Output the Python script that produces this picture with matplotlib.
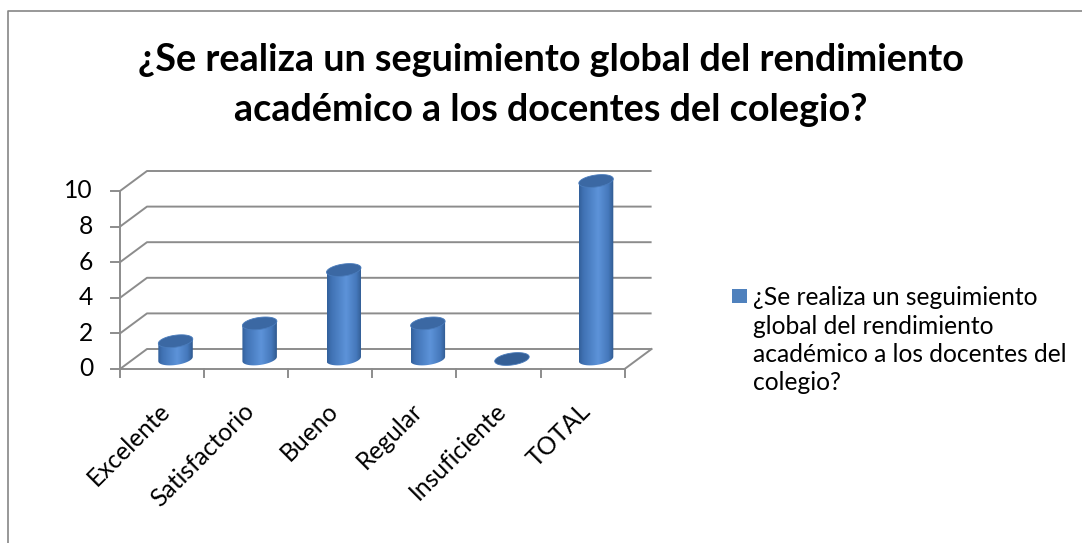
import textwrap
import numpy as np
import matplotlib
matplotlib.use("Agg")
import matplotlib.pyplot as plt
from matplotlib.patches import Polygon, Rectangle
from matplotlib.lines import Line2D

# data
categories = ["Excelente", "Satisfactorio", "Bueno", "Regular", "Insuficiente", "TOTAL"]
values = [1, 2, 5, 2, 0, 10]
y_ticks = [0, 2, 4, 6, 8, 10]
series_name = "¿Se realiza un seguimiento global del rendimiento académico a los docentes del colegio?"

W, H = 1082, 543
X0, CAT_W = 120, 84.1      # px of front axis and width of one category
Y0, UNIT = 369, 17.8       # px of value 0 and px per unit
DX, DY = 27 / CAT_W, 20 / UNIT   # depth of the 3d box in data units
GRID = "#8c8c8c"
FONT = "Lato"
FS = 17.7

fig = plt.figure(figsize=(W / 100, H / 100), dpi=100)
ax = fig.add_axes([0, 0, 1, 1])
ax.set_xlim(-X0 / CAT_W, (W - X0) / CAT_W)
ax.set_ylim((Y0 - H) / UNIT, Y0 / UNIT)
ax.axis("off")

n = len(categories)

# back wall + side wall gridlines
for v in y_ticks:
    ax.plot([0, DX, n + DX], [v, v + DY, v + DY], color=GRID, lw=1.4, solid_capstyle="butt")
ax.plot([n, n + DX], [0, DY], color=GRID, lw=1.4)

# cylinders
w, ey, k = 0.205, 6 / UNIT, 2.2 / UNIT
t = np.linspace(0, 2 * np.pi, 80)
pos = [0, 0.12, 0.55, 0.85, 1]
cols = np.array([[0x33, 0x60, 0x9b], [0x40, 0x72, 0xb4], [0x5d, 0x93, 0xd9],
                 [0x45, 0x78, 0xbb], [0x30, 0x5a, 0x90]]) / 255
xs = np.linspace(0, 1, 60)
grad = np.stack([np.interp(xs, pos, cols[:, c]) for c in range(3)], axis=-1)[None, :, :]

for i, v in enumerate(values):
    cx = i + 0.5 + DX / 2
    base = DY / 2
    top = base + v
    if v > 0:
        tb = np.linspace(np.pi, 2 * np.pi, 40)
        bx = cx + w * np.cos(tb)
        by = base + ey * np.sin(tb) + k * np.cos(tb)
        px = np.concatenate([[cx - w], bx, [cx + w]])
        py = np.concatenate([[top - k], by, [top + k]])
        body = Polygon(np.column_stack([px, py]), closed=True, facecolor="none", edgecolor="none")
        ax.add_patch(body)
        im = ax.imshow(grad, extent=[cx - w, cx + w, base - ey - k, top + ey + k],
                       aspect="auto", interpolation="bilinear", zorder=2)
        im.set_clip_path(body)
    ex = cx + w * np.cos(t)
    eyy = top + ey * np.sin(t) + k * np.cos(t)
    topc = "#3b68a3" if v > 0 else "#345f96"
    ax.add_patch(Polygon(np.column_stack([ex, eyy]), closed=True, facecolor=topc,
                         edgecolor="#4a7cbc", lw=0.6, zorder=3))

# front axes
ax.plot([0, 0], [0, max(y_ticks)], color=GRID, lw=1.4, zorder=4)
ax.plot([0, n], [0, 0], color=GRID, lw=1.4, zorder=4)
for v in y_ticks:
    ax.plot([-9 / CAT_W, 0], [v, v], color=GRID, lw=1.4, zorder=4)
    ax.text(-27 / CAT_W, v, str(v), ha="right", va="center", fontsize=FS,
            family=FONT, color="black")
for i in range(n + 1):
    ax.plot([i, i], [0, -8 / UNIT], color=GRID, lw=1.4, zorder=4)
for i, c in enumerate(categories):
    ax.text(i + 0.5 + 4 / CAT_W, -38 / UNIT, c, rotation=45, ha="right", va="center",
            rotation_mode="anchor", fontsize=FS, family=FONT)

# title
for j, line in enumerate(textwrap.wrap(series_name, 49)):
    fig.text(551 / W, 1 - (71 + 50 * j) / H, line, ha="center", va="baseline",
             fontsize=27.2, fontweight="bold", family=FONT)

# legend
fig.patches.append(Rectangle((732 / W, 1 - 303 / H), 15 / W, 14 / H, transform=fig.transFigure,
                             facecolor="#4f81bd", edgecolor="none"))
for j, line in enumerate(textwrap.wrap(series_name, 28)):
    fig.text(753 / W, 1 - (305 + 28.5 * j) / H, line, ha="left", va="baseline",
             fontsize=FS, family=FONT)

# chart border
fig.lines.append(Line2D([8 / W, 8 / W, 1], [0, 1 - 11 / H, 1 - 11 / H],
                        transform=fig.transFigure, color="#868686", lw=1.2))

fig.savefig("out.png", dpi=100)
